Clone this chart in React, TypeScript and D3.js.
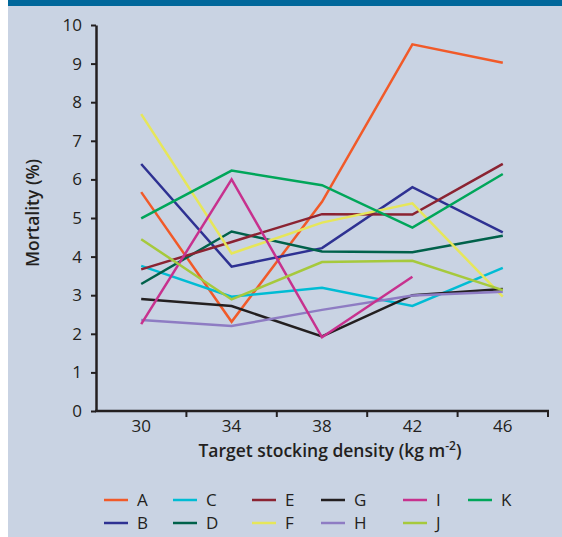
import React, { useEffect, useRef } from "react";
import * as d3 from "d3";

const densities = ["30", "34", "38", "42", "46"];
const yTicks = [0, 1, 2, 3, 4, 5, 6, 7, 8, 9, 10];

const seriesNames = ["A", "B", "C", "D", "E", "F", "G", "H", "I", "J", "K"];
const seriesColors = [
  "#f15a29", "#2e3192", "#00bcd4", "#00614a", "#8b2332", "#e6e65a",
  "#231f20", "#8e7cc3", "#c7318e", "#a6c93c", "#00a65a",
];
const seriesValues: (number | null)[][] = [
  [5.67, 2.31, 5.42, 9.5, 9.02],
  [6.4, 3.74, 4.22, 5.8, 4.63],
  [3.76, 2.96, 3.19, 2.72, 3.71],
  [3.29, 4.65, 4.13, 4.11, 4.54],
  [3.67, 4.38, 5.1, 5.09, 6.4],
  [7.69, 4.08, 4.88, 5.38, 2.96],
  [2.9, 2.72, 1.93, 3.0, 3.16],
  [2.36, 2.2, 2.62, 2.99, 3.09],
  [2.25, 6.0, 1.91, 3.48, null],
  [4.45, 2.89, 3.86, 3.89, 3.13],
  [4.99, 6.23, 5.85, 4.75, 6.14],
];

const W = 562;
const H = 537;
const margin = { top: 25, left: 96, right: 14, bottom: 126 };
const font = "'Open Sans', 'Noto Sans', sans-serif";
const ink = "#231f20";

export default function App() {
  const svgRef = useRef<SVGSVGElement>(null);

  useEffect(() => {
    const svg = d3.select(svgRef.current);
    svg.selectAll("*").remove();

    // background
    svg.append("rect").attr("x", 8).attr("y", 0).attr("width", W - 8).attr("height", H).attr("fill", "#c9d3e3");
    svg.append("rect").attr("x", 8).attr("y", 0).attr("width", W - 8).attr("height", 6).attr("fill", "#00679b");

    const x = d3.scaleBand().domain(densities).range([margin.left, W - margin.right]).padding(0);
    const y = d3.scaleLinear().domain([0, 10]).range([H - margin.bottom, margin.top]);
    const y0 = H - margin.bottom;

    // y axis
    const yAxis = svg.append("g")
      .attr("transform", `translate(${margin.left},0)`)
      .call(d3.axisLeft(y).tickValues(yTicks).tickSize(5).tickSizeOuter(0).tickPadding(9));
    yAxis.select(".domain").attr("stroke", ink).attr("stroke-width", 2.5);
    yAxis.selectAll(".tick line").attr("stroke", ink).attr("stroke-width", 2);
    yAxis.selectAll(".tick text").attr("fill", ink).style("font-family", font).style("font-size", "17px");

    // x axis: ticks at band edges, labels at band centers
    const edges = densities.map(d => x(d) as number).concat([W - margin.right]);
    const xg = svg.append("g");
    xg.append("line").attr("x1", margin.left - 1).attr("x2", W - margin.right + 1)
      .attr("y1", y0).attr("y2", y0).attr("stroke", ink).attr("stroke-width", 2.5);
    xg.selectAll("line.tk").data(edges.slice(1)).join("line").attr("class", "tk")
      .attr("x1", d => d).attr("x2", d => d).attr("y1", y0).attr("y2", y0 + 6)
      .attr("stroke", ink).attr("stroke-width", 2);
    xg.selectAll("text").data(densities).join("text")
      .attr("x", d => (x(d) as number) + x.bandwidth() / 2)
      .attr("y", y0 + 21)
      .attr("text-anchor", "middle")
      .attr("fill", ink)
      .style("font-family", font).style("font-size", "17px")
      .text(d => d);

    // axis titles
    const xt = svg.append("text")
      .attr("x", (margin.left + W - margin.right) / 2 + 8)
      .attr("y", y0 + 46)
      .attr("text-anchor", "middle")
      .attr("fill", ink)
      .style("font-family", font).style("font-size", "17.5px").style("font-weight", 600);
    xt.append("tspan").text("Target stocking density (kg m");
    xt.append("tspan").attr("dy", -7).style("font-size", "12px").text("-2");
    xt.append("tspan").attr("dy", 7).text(")");

    svg.append("text")
      .attr("transform", `translate(39,${(margin.top + y0) / 2 - 5}) rotate(-90)`)
      .attr("text-anchor", "middle")
      .attr("fill", ink)
      .style("font-family", font).style("font-size", "17.5px").style("font-weight", 600)
      .text("Mortality (%)");

    // lines
    const line = d3.line<number | null>()
      .defined(v => v !== null)
      .x((_, i) => (x(densities[i]) as number) + x.bandwidth() / 2)
      .y(v => y(v as number));

    svg.append("g").selectAll("path").data(seriesValues).join("path")
      .attr("d", d => line(d))
      .attr("fill", "none")
      .attr("stroke", (_, i) => seriesColors[i])
      .attr("stroke-width", 2.5);

    // legend
    const colX = [104, 173, 252, 321, 403, 468];
    const rowY = [500, 523];
    const lg = svg.append("g");
    seriesNames.forEach((name, i) => {
      const cx = colX[Math.floor(i / 2)];
      const cy = rowY[i % 2];
      lg.append("line").attr("x1", cx).attr("x2", cx + 24).attr("y1", cy).attr("y2", cy)
        .attr("stroke", seriesColors[i]).attr("stroke-width", 2.5);
      lg.append("text").attr("x", cx + 33).attr("y", cy + 6)
        .attr("fill", ink)
        .style("font-family", font).style("font-size", "17px")
        .text(name);
    });
  }, []);

  return (
    <svg ref={svgRef} width={W} height={H} style={{ position: "absolute", left: 0, top: 0 }} />
  );
}
